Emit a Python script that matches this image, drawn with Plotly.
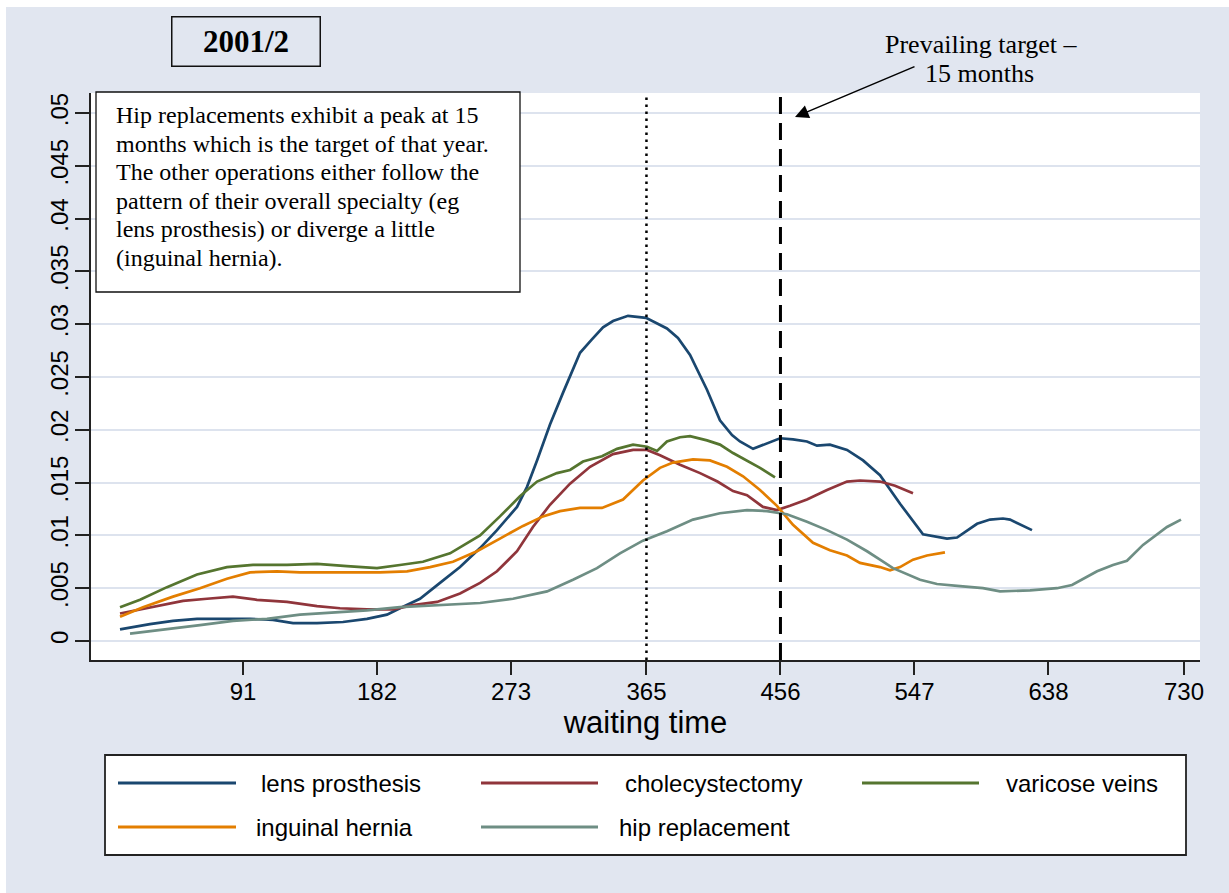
import plotly.graph_objects as go

# Waiting-time densities (days on list) for five elective operations, 2001/2
lens_x = [7.5, 27.8, 43.5, 59.8, 77.4, 95.8, 111.4, 125.0, 141.3, 158.9,
          175.2, 188.8, 197.6, 211.2, 224.8, 238.4, 252.0, 263.5, 277.1, 283.9,
          290.7, 299.5, 308.3, 319.9, 327.5, 335.5, 342.3, 352.5, 364.7, 378.9,
          386.4, 394.6, 406.1, 414.9, 423.1, 428.5, 437.4, 446.9, 455.7, 464.5,
          474.0, 480.8, 489.6, 501.2, 512.1, 523.6, 537.2, 552.8, 569.1, 575.9,
          589.5, 598.3, 607.1, 611.9, 626.8]
lens_y = [.0011, .0016, .0019, .0021, .0021, .0021, .0020, .0017, .0017, .0018,
          .0021, .0025, .0031, .0040, .0055, .0070, .0088, .0105, .0127, .0146,
          .0171, .0205, .0235, .0273, .0285, .0297, .0303, .0308, .0306, .0296,
          .0287, .0271, .0238, .0209, .0195, .0189, .0182, .0187, .0192, .0191,
          .0189, .0185, .0186, .0181, .0171, .0157, .0130, .0101, .0097, .0098,
          .0111, .0115, .0116, .0115, .0105]

chole_x = [7.5, 27.8, 50.3, 66.6, 84.2, 100.5, 120.9, 141.3, 156.9, 175.2,
           192.9, 206.5, 222.8, 238.4, 252.0, 263.5, 277.1, 287.9, 299.5, 313.1,
           326.7, 342.3, 355.9, 365.4, 374.2, 387.8, 401.4, 413.2, 423.8, 433.3,
           444.1, 453.6, 462.5, 474.0, 487.6, 501.2, 510.0, 523.6, 533.8, 546.0]
chole_y = [.0026, .0032, .0038, .0040, .0042, .0039, .0037, .0033, .0031, .0030,
           .0030, .0034, .0037, .0045, .0055, .0066, .0085, .0108, .0129, .0149,
           .0165, .0177, .0181, .0181, .0176, .0167, .0159, .0151, .0142, .0138,
           .0127, .0124, .0128, .0134, .0143, .0151, .0152, .0151, .0147, .0140]

vv_x = [7.5, 21.1, 39.4, 59.8, 80.1, 97.8, 120.9, 141.3, 161.6, 182.0,
        197.6, 213.2, 231.6, 252.0, 265.5, 279.1, 290.7, 304.2, 313.1, 321.9,
        334.8, 345.0, 355.9, 365.4, 372.2, 378.9, 387.8, 394.6, 406.1, 414.9,
        423.8, 433.3, 442.1, 452.3]
vv_y = [.0032, .0039, .0051, .0063, .0070, .0072, .0072, .0073, .0071, .0069,
        .0072, .0075, .0083, .0100, .0118, .0137, .0151, .0159, .0162, .0170,
        .0175, .0182, .0186, .0184, .0180, .0189, .0193, .0194, .0190, .0186,
        .0178, .0171, .0164, .0155]

ing_x = [7.5, 23.1, 43.5, 61.8, 80.1, 95.8, 114.1, 129.7, 152.1, 175.2,
         184.0, 202.4, 218.0, 233.6, 249.9, 265.5, 281.2, 294.7, 306.3, 319.9,
         334.8, 349.1, 362.6, 374.2, 383.0, 396.6, 408.1, 419.7, 430.6, 442.1,
         453.6, 464.5, 478.1, 489.6, 501.2, 510.0, 523.6, 530.4, 537.2, 546.0,
         555.5, 567.7]
ing_y = [.0023, .0032, .0042, .0050, .0059, .0065, .0066, .0065, .0065, .0065,
         .0065, .0066, .0070, .0075, .0085, .0097, .0109, .0118, .0123, .0126,
         .0126, .0134, .0152, .0164, .0169, .0172, .0171, .0165, .0156, .0143,
         .0128, .0110, .0093, .0086, .0081, .0074, .0070, .0067, .0070, .0077,
         .0081, .0084]

hip_x = [14.3, 39.4, 61.8, 84.2, 107.3, 129.7, 152.1, 175.2, 197.6, 229.5,
         252.0, 274.4, 297.5, 315.1, 331.4, 347.0, 362.6, 378.9, 396.6, 414.9,
         433.3, 446.9, 460.4, 474.0, 487.6, 501.2, 514.8, 523.6, 532.4, 550.8,
         562.3, 577.9, 593.5, 605.1, 625.5, 643.8, 654.0, 671.0, 681.8, 691.3,
         702.2, 718.5, 728.0]
hip_y = [.0007, .0011, .0015, .0019, .0021, .0025, .0027, .0029, .0032, .0034,
         .0036, .0040, .0047, .0058, .0069, .0083, .0095, .0104, .0115, .0121,
         .0124, .0123, .0120, .0113, .0105, .0096, .0085, .0077, .0069, .0058,
         .0054, .0052, .0050, .0047, .0048, .0050, .0053, .0066, .0072, .0076,
         .0091, .0108, .0115]

series_names = ["lens prosthesis", "cholecystectomy", "varicose veins",
                "inguinal hernia", "hip replacement"]
series_x = [lens_x, chole_x, vv_x, ing_x, hip_x]
series_y = [lens_y, chole_y, vv_y, ing_y, hip_y]
series_colors = ["#1a476f", "#90353b", "#55752f", "#e37e00", "#6e8e84"]

x_ticks = [91, 182, 273, 365, 456, 547, 638, 730]
y_ticks = [0, .005, .01, .015, .02, .025, .03, .035, .04, .045, .05]
y_tick_text = ["0", ".005", ".01", ".015", ".02", ".025", ".03", ".035",
               ".04", ".045", ".05"]

one_year = 365        # dotted reference line
target_days = 456     # prevailing target, 15 months

note_lines = [
    "Hip replacements exhibit a peak at 15",
    "months which is the target of that year.",
    "The other operations either follow the",
    "pattern of their overall specialty (eg",
    "lens prosthesis) or diverge a little",
    "(inguinal hernia).",
]

# page geometry (pixels)
W, H = 1229, 893
ML, MR, MT, MB = 91, 29, 93, 233
PW, PH = W - ML - MR, H - MT - MB

BG = "#e1e6f0"
GRID = "#dde3ee"
SANS = "Liberation Sans, Arial, sans-serif"
SERIF = "Liberation Serif, Times New Roman, serif"


def px(x):
    return (x - ML) / PW


def py(y):
    return (H - MB - y) / PH


fig = go.Figure()
for name, xs, ys, col in zip(series_names, series_x, series_y, series_colors):
    fig.add_trace(go.Scatter(x=xs, y=ys, mode="lines", name=name,
                             line=dict(color=col, width=2.7),
                             showlegend=False))

shapes = [
    # thin white edge at top and left of the page
    dict(type="rect", xref="paper", yref="paper", x0=px(0), x1=px(W),
         y0=py(7), y1=py(0), fillcolor="white", line_width=0, layer="below"),
    dict(type="rect", xref="paper", yref="paper", x0=px(0), x1=px(6),
         y0=py(H), y1=py(0), fillcolor="white", line_width=0, layer="below"),
    # reference lines
    dict(type="line", xref="x", yref="paper", x0=one_year, x1=one_year,
         y0=0, y1=0.995, line=dict(color="black", width=2.5, dash="2.5px,4.5px"),
         layer="above"),
    dict(type="line", xref="x", yref="paper", x0=target_days, x1=target_days,
         y0=0, y1=1, line=dict(color="black", width=3, dash="17px,9px"),
         layer="above"),
    # note box
    dict(type="rect", xref="paper", yref="paper", x0=px(96), x1=px(520),
         y0=py(292), y1=py(92), fillcolor="white",
         line=dict(color="#111111", width=1.3), layer="above"),
    # legend box
    dict(type="rect", xref="paper", yref="paper", x0=px(105), x1=px(1186),
         y0=py(855), y1=py(755), fillcolor="white",
         line=dict(color="#222222", width=1.8), layer="above"),
]

annotations = []

# legend entries: (row y, sample x0, sample x1, label x)
legend_slots = [
    (783, 118, 236, 259),
    (783, 481, 598, 623),
    (783, 862, 979, 1004),
    (827, 118, 236, 254),
    (827, 481, 598, 617),
]
for (ly, lx0, lx1, tx), name, col in zip(legend_slots, series_names, series_colors):
    shapes.append(dict(type="line", xref="paper", yref="paper",
                       x0=px(lx0), x1=px(lx1), y0=py(ly), y1=py(ly),
                       line=dict(color=col, width=3), layer="above"))
    annotations.append(dict(xref="paper", yref="paper", x=px(tx), y=py(ly),
                            xanchor="left", yanchor="middle", showarrow=False,
                            text=name, font=dict(family=SANS, size=24,
                                                 color="black")))

# note text, one annotation per line
for i, line in enumerate(note_lines):
    annotations.append(dict(xref="paper", yref="paper", x=px(114),
                            y=py(115 + 28.6 * i), xanchor="left",
                            yanchor="middle", showarrow=False, text=line,
                            font=dict(family=SERIF, size=24, color="black")))

# period title box
annotations.append(dict(xref="paper", yref="paper", x=px(245.5), y=py(42),
                        xanchor="center", yanchor="middle", showarrow=False,
                        text="<b>2001/2</b>", width=147, height=48,
                        borderpad=0, bordercolor="#111111", borderwidth=1.5,
                        font=dict(family=SERIF, size=31, color="black")))

# target label and arrow
annotations.append(dict(xref="paper", yref="paper", x=px(981), y=py(44),
                        xanchor="center", yanchor="middle", showarrow=False,
                        text="Prevailing target \u2013",
                        font=dict(family=SERIF, size=26, color="black")))
annotations.append(dict(xref="paper", yref="paper", x=px(979), y=py(74),
                        xanchor="center", yanchor="middle", showarrow=False,
                        text="15 months",
                        font=dict(family=SERIF, size=26, color="black")))
annotations.append(dict(xref="paper", yref="paper", x=px(795), y=py(117),
                        text="", showarrow=True, axref="pixel", ayref="pixel",
                        ax=121, ay=-51, arrowhead=2, arrowsize=1.7,
                        arrowwidth=1.6, arrowcolor="black"))

fig.update_layout(
    width=W, height=H,
    margin=dict(l=ML, r=MR, t=MT, b=MB, autoexpand=False),
    paper_bgcolor=BG, plot_bgcolor="white",
    shapes=shapes, annotations=annotations,
    showlegend=False,
    xaxis=dict(range=[-12.2, 740.9], tickvals=x_ticks,
               ticktext=[str(v) for v in x_ticks], showgrid=False,
               zeroline=False, showline=True, linecolor="#222222",
               linewidth=2, ticks="outside", ticklen=13, tickwidth=1.5,
               tickcolor="#222222", ticklabelstandoff=-4,
               tickfont=dict(family=SANS, size=24, color="black"),
               title=dict(text="waiting time", standoff=0,
                          font=dict(family=SANS, size=31, color="black"))),
    yaxis=dict(range=[-0.0018, 0.0519], tickvals=y_ticks,
               ticktext=y_tick_text, tickangle=-90, showgrid=True,
               gridcolor=GRID, gridwidth=2, zeroline=False, showline=True,
               linecolor="#222222", linewidth=2, ticks="outside", ticklen=14,
               tickwidth=1.5, tickcolor="#222222", ticklabelstandoff=-3,
               tickfont=dict(family=SANS, size=24, color="black")),
)

fig.write_html("out.html")
